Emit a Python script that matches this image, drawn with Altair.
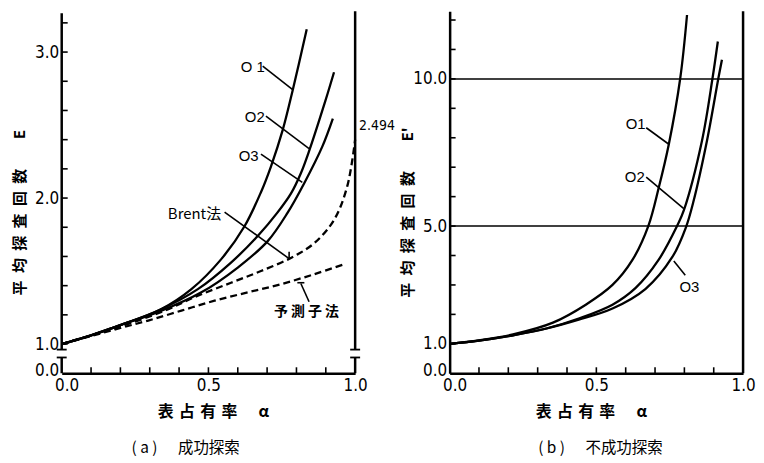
import altair as alt
import pandas as pd

# ---------------- data ----------------
# (a) successful search, E
a_o1_alpha = [0.0, 0.1, 0.2, 0.34, 0.442, 0.543, 0.623, 0.679, 0.713, 0.753, 0.787, 0.835]
a_o1_E     = [1.0, 1.06, 1.13, 1.24, 1.376, 1.58, 1.807, 2.04, 2.216, 2.465, 2.737, 3.156]
a_o2_alpha = [0.0, 0.1, 0.2, 0.33, 0.464, 0.577, 0.668, 0.735, 0.781, 0.815, 0.841, 0.899, 0.928]
a_o2_E     = [1.0, 1.06, 1.13, 1.23, 1.376, 1.558, 1.74, 1.9, 2.03, 2.17, 2.31, 2.669, 2.862]
a_o3_alpha = [0.0, 0.1, 0.2, 0.33, 0.476, 0.6, 0.702, 0.77, 0.826, 0.888, 0.924]
a_o3_E     = [1.0, 1.06, 1.13, 1.22, 1.354, 1.524, 1.705, 1.90, 2.10, 2.352, 2.544]
a_brent_alpha = [0.0, 0.1, 0.2, 0.351, 0.464, 0.577, 0.679, 0.781, 0.86, 0.928, 0.973, 1.0]
a_brent_E     = [1.0, 1.06, 1.12, 1.229, 1.331, 1.42, 1.50, 1.59, 1.69, 1.85, 2.08, 2.40]
a_pred_alpha = [0.0, 0.1, 0.2, 0.295, 0.408, 0.521, 0.634, 0.747, 0.86, 0.962]
a_pred_E     = [1.0, 1.055, 1.11, 1.161, 1.229, 1.297, 1.354, 1.41, 1.478, 1.546]

# (b) unsuccessful search, E'
b_o1_alpha = [0.0, 0.1, 0.216, 0.352, 0.464, 0.555, 0.623, 0.677, 0.713, 0.747, 0.786, 0.809]
b_o1_E     = [1.0, 1.12, 1.32, 1.72, 2.33, 3.0, 3.85, 5.0, 6.32, 7.78, 10.03, 12.17]
b_o2_alpha = [0.0, 0.1, 0.216, 0.33, 0.44, 0.555, 0.634, 0.712, 0.775, 0.798, 0.86, 0.896, 0.914]
b_o2_E     = [1.0, 1.11, 1.29, 1.52, 1.86, 2.33, 2.90, 3.85, 5.0, 5.53, 7.9, 10.03, 11.27]
b_o3_alpha = [0.0, 0.1, 0.216, 0.33, 0.44, 0.555, 0.668, 0.759, 0.805, 0.83, 0.877, 0.916, 0.928]
b_o3_E     = [1.0, 1.11, 1.29, 1.52, 1.82, 2.2, 2.87, 3.95, 4.95, 5.8, 7.9, 10.03, 10.65]

# axes / ticks
a_y_domain = [0.8, 3.28]
a_y_labels = [0.82, 1.0, 2.0, 3.0]      # bottom label "0.0" sits just under the axis break
a_y_ticks = [1.0, 1.2, 1.4, 1.6, 1.8, 2.0, 2.2, 2.4, 2.6, 2.8, 3.0, 3.2]
b_y_domain = [0.0, 12.3]
b_y_labels = [0.1, 1.0, 5.0, 10.0]
b_y_ticks = [1, 2, 3, 4, 5, 6, 7, 8, 9, 10, 11, 12]
x_labels = [0.0, 0.5, 1.0]
x_ticks = [0.1, 0.2, 0.3, 0.4, 0.5, 0.6, 0.7, 0.8, 0.9]
b_hlines = [5.0, 10.0]

# axis segments of (a) with the break between 0.0 and 1.0
a_seg_x = [0.0, 0.0, 1.0, 1.0]
a_seg_y = [0.8, 0.962, 0.8, 0.962]
a_seg_y2 = [0.908, 3.266, 0.908, 3.28]
a_break_x = [0.0, 0.0, 1.0, 1.0]
a_break_y = [0.908, 0.962, 0.908, 0.962]

# labels and leader lines
a_lab_text = ["O 1", "O2", "O3"]
a_lab_x = [0.651, 0.658, 0.637]
a_lab_y = [2.898, 2.557, 2.285]
a_cjk_text = ["Brent法"]
a_cjk_x = [0.4525]
a_cjk_y = [1.893]
a_pred_text = ["予 測 子 法"]
a_pred_x = [0.834]
a_pred_y = [1.219]
a_lead_x = [0.685, 0.696, 0.679, 0.555, 0.775, 0.843, 0.803]
a_lead_y = [2.903, 2.561, 2.301, 1.904, 1.585, 1.290, 1.42]
a_lead_x2 = [0.786, 0.843, 0.82, 0.775, 0.775, 0.815, 0.827]
a_lead_y2 = [2.744, 2.339, 2.108, 1.585, 1.633, 1.415, 1.42]
a_end_text = ["2.494"]
a_end_x = [1.0]
a_end_y = [2.494]

b_lab_text = ["O1", "O2", "O3"]
b_lab_x = [0.634, 0.631, 0.817]
b_lab_y = [8.46, 6.66, 2.92]
b_lead_x = [0.670, 0.670, 0.803]
b_lead_y = [8.34, 6.66, 3.33]
b_lead_x2 = [0.747, 0.798, 0.764]
b_lead_y2 = [7.78, 5.59, 3.81]

CJK = "Noto Sans CJK JP"
NUM = "Liberation Sans Narrow, DejaVu Sans Condensed, Liberation Sans, sans-serif"
LAT = "Liberation Sans, Arial, sans-serif"
W, H = 295, 364

XT = "表\u2004占\u2004有\u2004率\u3000\u2004α"
YT_A = "平\u2002均\u2002探\u2002査\u2002回\u2002数\u3000\u3000E"
YT_B = "平\u2002均\u2002探\u2002査\u2002回\u2002数\u3000\u3000E'"


def curves_df(series):
    rows = []
    for name, xs, ys in series:
        for i, (x, y) in enumerate(zip(xs, ys)):
            rows.append({"series": name, "alpha": x, "E": y, "order": i})
    return pd.DataFrame(rows)


def x_axis(title_x):
    return alt.Axis(values=x_labels, format=".1f", labelFlush=False, labelOverlap=False,
                    ticks=False, grid=False, domain=True, domainColor="black", domainWidth=2.5,
                    labelFont=NUM, labelFontSize=17, labelColor="black", labelPadding=4,
                    labelOffset={"condition": {"test": "datum.value == 0", "value": 5}, "value": 0},
                    title=XT, titleFont=CJK, titleFontSize=16, titleFontWeight="bold",
                    titleColor="black", titleX=title_x, titleY=38, titleBaseline="middle",
                    titleAlign="center")


def y_axis(values, title, domain, label_expr):
    return alt.Axis(values=values, labelExpr=label_expr, labelFlush=False, labelOverlap=False,
                    ticks=False, grid=False, domain=domain, domainColor="black", domainWidth=2.5,
                    labelFont=NUM, labelFontSize=17, labelColor="black", labelPadding=3,
                    title=title, titleFont=CJK, titleFontSize=15, titleFontWeight="bold",
                    titleColor="black", titleX=-42, titleY=202, titleBaseline="middle",
                    titleAlign="center", titleAngle=-90)


def panel(xscale, yscale, xa, ya, solid, dashed, extra_layers, caption, cap_dx):
    def X(f):
        return alt.X(f"{f}:Q", scale=xscale, axis=xa)

    def Y(f):
        return alt.Y(f"{f}:Q", scale=yscale, axis=ya)

    layers = []
    layers.append(
        alt.Chart(curves_df(solid)).mark_line(color="black", strokeWidth=2.3, interpolate="catmull-rom")
        .encode(x=X("alpha"), y=Y("E"), detail="series:N", order="order:Q")
    )
    if dashed:
        layers.append(
            alt.Chart(curves_df(dashed)).mark_line(color="black", strokeWidth=2.3, strokeDash=[7, 4],
                                                   interpolate="catmull-rom")
            .encode(x=X("alpha"), y=Y("E"), detail="series:N", order="order:Q")
        )
    for build in extra_layers:
        layers.append(build(X, Y))
    return alt.layer(*layers).properties(
        width=W, height=H,
        title=alt.TitleParams(caption, orient="bottom", frame="group", anchor="middle", dx=cap_dx,
                              offset=22, font=CJK, fontSize=15.5, fontWeight="normal", color="black"),
    )


def ytick_layer(vals):
    def build(X, Y):
        return alt.Chart(pd.DataFrame({"v": vals})).mark_rule(color="black", strokeWidth=1.6).encode(
            y=Y("v"), x=alt.value(0), x2=alt.value(6))
    return build


def xtick_layer(vals):
    def build(X, Y):
        return alt.Chart(pd.DataFrame({"v": vals})).mark_rule(color="black", strokeWidth=1.6).encode(
            x=X("v"), y=alt.value(H), y2=alt.value(H - 6))
    return build


def seg_layer(xs, ys, x2s, y2s, width):
    def build(X, Y):
        df = pd.DataFrame({"x": xs, "y": ys, "x2": x2s, "y2": y2s})
        return alt.Chart(df).mark_rule(color="black", strokeWidth=width).encode(
            x=X("x"), y=Y("y"), x2=alt.X2("x2:Q"), y2=alt.Y2("y2:Q"))
    return build


def break_layer(xs, ys):
    def build(X, Y):
        df = pd.DataFrame({"x": xs, "y": ys})
        return alt.Chart(df).mark_rule(color="black", strokeWidth=1.8, xOffset=-5, x2Offset=5).encode(
            x=X("x"), x2=alt.X2("x:Q"), y=Y("y"))
    return build


def text_layer(texts, xs, ys, font, size, align="center", dx=0, weight="normal"):
    def build(X, Y):
        df = pd.DataFrame({"t": texts, "x": xs, "y": ys})
        return alt.Chart(df).mark_text(font=font, fontSize=size, align=align, baseline="middle",
                                       dx=dx, color="black", fontWeight=weight).encode(
            x=X("x"), y=Y("y"), text="t:N")
    return build


xscale = alt.Scale(domain=[0, 1], nice=False, zero=False)
a_yscale = alt.Scale(domain=a_y_domain, nice=False, zero=False)
b_yscale = alt.Scale(domain=b_y_domain, nice=False, zero=False)

a_expr = "datum.value < 0.9 ? '0.0' : format(datum.value, '.1f')"
b_expr = "datum.value < 0.5 ? '0.0' : format(datum.value, '.1f')"

pa = panel(
    xscale, a_yscale, x_axis(152), y_axis(a_y_labels, YT_A, False, a_expr),
    [("O1", a_o1_alpha, a_o1_E), ("O2", a_o2_alpha, a_o2_E), ("O3", a_o3_alpha, a_o3_E)],
    [("Brent", a_brent_alpha, a_brent_E), ("pred", a_pred_alpha, a_pred_E)],
    [
        seg_layer(a_seg_x, a_seg_y, a_seg_x, a_seg_y2, 2.5),
        break_layer(a_break_x, a_break_y),
        ytick_layer(a_y_ticks),
        xtick_layer(x_ticks),
        seg_layer(a_lead_x, a_lead_y, a_lead_x2, a_lead_y2, 1.6),
        text_layer(a_lab_text, a_lab_x, a_lab_y, LAT, 15),
        text_layer(a_cjk_text, a_cjk_x, a_cjk_y, CJK, 15),
        text_layer(a_pred_text, a_pred_x, a_pred_y, CJK, 14, weight="bold"),
        text_layer(a_end_text, a_end_x, a_end_y, NUM, 14, align="left", dx=4),
    ],
    "( a )\u3000\u2004成功探索", -23,
)

pb = panel(
    xscale, b_yscale, x_axis(142), y_axis(b_y_labels, YT_B, True, b_expr),
    [("O1", b_o1_alpha, b_o1_E), ("O2", b_o2_alpha, b_o2_E), ("O3", b_o3_alpha, b_o3_E)],
    [],
    [
        seg_layer([1.0], [b_y_domain[0]], [1.0], [b_y_domain[1]], 2.5),
        seg_layer([0.0, 0.0], b_hlines, [1.0, 1.0], b_hlines, 1.5),
        ytick_layer(b_y_ticks),
        xtick_layer(x_ticks),
        seg_layer(b_lead_x, b_lead_y, b_lead_x2, b_lead_y2, 1.6),
        text_layer(b_lab_text, b_lab_x, b_lab_y, LAT, 15),
    ],
    "( b )\u3000\u2004不成功探索", 4,
)

chart = (
    alt.hconcat(pa, pb, spacing=95, bounds="flush")
    .properties(padding={"left": 5, "top": 0, "right": 0, "bottom": 0})
    .configure_view(stroke=None)
)

chart.save("out.html", embed_options={"renderer": "svg", "actions": False})
